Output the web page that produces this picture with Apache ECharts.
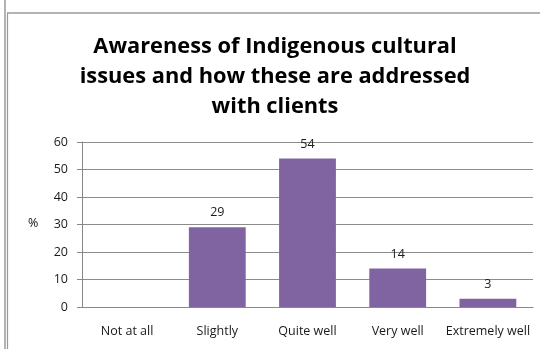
<!DOCTYPE html>
<html>
<head>
<meta charset="utf-8">
<script src="https://cdn.jsdelivr.net/npm/echarts@6/dist/echarts.min.js"></script>
<style>
  html, body { margin: 0; padding: 0; background: #fff; }
  #chart { width: 540px; height: 349px; }
</style>
</head>
<body>
<div id="chart"></div>
<script>
// Survey responses: awareness of Indigenous cultural issues
const categories = ['Not at all', 'Slightly', 'Quite well', 'Very well', 'Extremely well'];
const percentages = [0, 29, 54, 14, 3];
const valueLabels = ['', '29', '54', '14', '3'];
const yTicks = [0, 10, 20, 30, 40, 50, 60];

const titleText = 'Awareness of Indigenous cultural\nissues and how these are addressed\nwith clients';
const fontFamily = '"Open Sans", "Liberation Sans", sans-serif';

const chart = echarts.init(document.getElementById('chart'), null, { renderer: 'canvas' });

chart.setOption({
  backgroundColor: '#ffffff',
  animation: false,
  title: {
    text: titleText,
    left: 270,
    top: 27,
    textAlign: 'center',
    textStyle: {
      fontFamily: fontFamily,
      fontSize: 21.8,
      fontWeight: 'bold',
      color: '#000000',
      lineHeight: 30
    }
  },
  graphic: [
    { type: 'line', shape: { x1: 5, y1: 0, x2: 5, y2: 349 }, style: { stroke: '#9a9a9a', lineWidth: 1.5 } },
    { type: 'line', shape: { x1: 7.5, y1: 13, x2: 7.5, y2: 349 }, style: { stroke: '#9a9a9a', lineWidth: 1.2 } },
    { type: 'line', shape: { x1: 7, y1: 13, x2: 540, y2: 13 }, style: { stroke: '#9a9a9a', lineWidth: 1.5 } },
    {
      type: 'text', left: 28, top: 217,
      style: { text: '%', fontFamily: fontFamily, fontSize: 12.5, fill: '#111111' }
    }
  ],
  grid: { left: 82, right: 7, top: 142, bottom: 42, containLabel: false },
  xAxis: {
    type: 'category',
    data: categories,
    axisLine: { show: true, lineStyle: { color: '#888888', width: 1 } },
    axisTick: { show: false },
    axisLabel: {
      fontFamily: fontFamily,
      fontSize: 12.5,
      color: '#1a1a1a',
      margin: 18,
      interval: 0
    }
  },
  yAxis: {
    type: 'value',
    min: yTicks[0],
    max: yTicks[yTicks.length - 1],
    interval: 10,
    axisLine: { show: true, lineStyle: { color: '#888888', width: 1 } },
    axisTick: { show: true, length: 5, lineStyle: { color: '#888888' } },
    axisLabel: {
      fontFamily: fontFamily,
      fontSize: 12.5,
      color: '#1a1a1a',
      margin: 14
    },
    splitLine: { show: true, lineStyle: { color: '#8c8c8c', width: 1 } }
  },
  series: [{
    type: 'bar',
    data: percentages,
    barCategoryGap: '37%',
    itemStyle: { color: '#8064A2' },
    label: {
      show: true,
      position: 'top',
      distance: 8,
      fontFamily: fontFamily,
      fontSize: 12.5,
      color: '#1a1a1a',
      formatter: p => valueLabels[p.dataIndex]
    }
  }]
});
</script>
</body>
</html>
